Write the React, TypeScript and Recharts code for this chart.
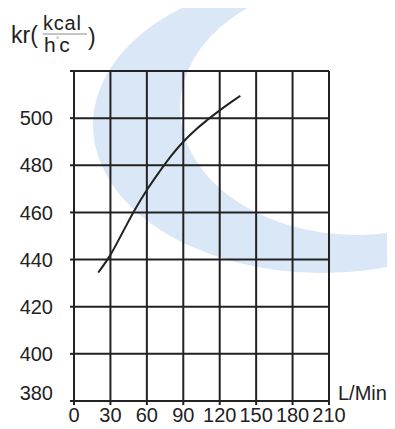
import { LineChart, Line, XAxis, YAxis, CartesianGrid } from 'recharts';

// flow rate (L/Min) and heat transfer coefficient kr (kcal/h·°c)
const flow = [20, 30, 40, 50, 60, 70, 80, 90, 100, 110, 120, 130, 137];
const kr = [434.5, 442, 451.5, 461, 469.5, 477, 484, 490, 495, 499.3, 503.3, 507, 509.5];

const xTicks = [0, 30, 60, 90, 120, 150, 180, 210];
const yTicks = [380, 400, 420, 440, 460, 480, 500, 520];

const data = flow.map((f, i) => ({ flow: f, kr: kr[i] }));

const FONT = '"Liberation Sans", Arial, sans-serif';
const INK = '#222222';

const YTick = (props: any) => {
  const { x, y, payload } = props;
  if (payload.value === 520) return null;
  // the bottom label sits a bit higher so it clears the x labels
  const shift = payload.value === 380 ? -8 : 0;
  return (
    <text x={x} y={y + shift} dy="0.36em" textAnchor="end" fontSize={20} fill={INK} fontFamily={FONT}>
      {payload.value}
    </text>
  );
};

const XTick = (props: any) => {
  const { x, y, payload } = props;
  return (
    <text x={x} y={y + 15} textAnchor="middle" fontSize={20} fill={INK} fontFamily={FONT}>
      {payload.value}
    </text>
  );
};

export default function App() {
  return (
    <div style={{ position: 'relative', width: 379, height: 421 }}>
      {/* pale watermark behind the grid */}
      <svg width={395} height={429} style={{ position: 'absolute', left: -8, top: -8 }}>
        <defs>
          <mask id="crescent">
            <rect x={0} y={0} width={395} height={429} fill="black" />
            <ellipse cx={322} cy={125} rx={229} ry={148} fill="white" />
            <ellipse cx={356} cy={108} rx={176} ry={127} fill="black" />
          </mask>
        </defs>
        <rect x={0} y={0} width={395} height={429} fill="#dae7f6" mask="url(#crescent)" />
      </svg>

      <div style={{ position: 'absolute', left: 0, top: 0 }}>
        <LineChart
          width={379}
          height={421}
          data={data}
          margin={{ top: 63, right: 58, bottom: 0, left: 0 }}
        >
          <CartesianGrid stroke={INK} strokeWidth={2} horizontalValues={yTicks} verticalValues={xTicks} />
          <XAxis
            dataKey="flow"
            type="number"
            domain={[0, 210]}
            ticks={xTicks}
            height={28}
            tickSize={4}
            tickMargin={2}
            stroke={INK}
            tickLine={{ stroke: INK, strokeWidth: 2 }}
            axisLine={false}
            tick={<XTick />}
          />
          <YAxis
            type="number"
            domain={[380, 520]}
            ticks={yTicks}
            width={66}
            tickSize={4}
            tickMargin={17}
            tickLine={{ stroke: INK, strokeWidth: 2 }}
            axisLine={false}
            tick={<YTick />}
          />
          <Line
            dataKey="kr"
            type="monotone"
            stroke={INK}
            strokeWidth={2}
            dot={false}
            isAnimationActive={false}
          />
        </LineChart>
      </div>

      {/* unit labels */}
      <svg width={395} height={429} style={{ position: 'absolute', left: -8, top: -8, pointerEvents: 'none' }}>
        <g fontFamily={FONT} fill={INK}>
          <text x={11} y={43} fontSize={23}>kr(</text>
          <text x={43} y={30} fontSize={20} letterSpacing={0.8}>kcal</text>
          <line x1={43} x2={87} y1={34} y2={34} stroke="#888" strokeWidth={1} />
          <text x={44} y={52} fontSize={21}>
            h<tspan fontSize={9} dy={-9} fill="#999">°</tspan><tspan dy={9}>c</tspan>
          </text>
          <text x={88} y={45} fontSize={23}>)</text>
          <text x={338} y={400} fontSize={20}>L/Min</text>
        </g>
      </svg>
    </div>
  );
}
